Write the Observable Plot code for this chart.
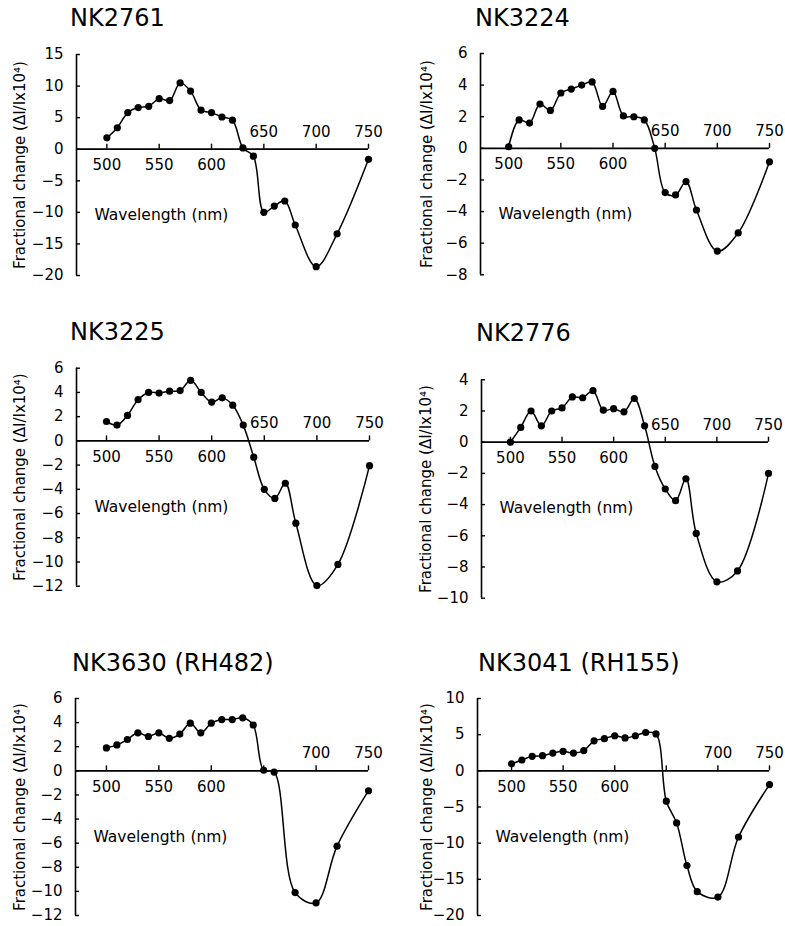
<!DOCTYPE html>
<html>
<head>
<meta charset="utf-8">
<script src="https://cdn.jsdelivr.net/npm/d3@7"></script>
<script src="https://cdn.jsdelivr.net/npm/@observablehq/plot@0.6"></script>
<style>
  body { margin: 0; background: #fff; }
  #page { position: relative; width: 785px; height: 926px; overflow: hidden; font-family: "DejaVu Sans", sans-serif; color: #000; background: #fff; }
  .title { position: absolute; font-size: 24px; line-height: 24px; white-space: nowrap; }
  .panel { position: absolute; }
</style>
</head>
<body>
<div id="page"></div>
<script>
// ---------- data ----------
const wavelengths = [500, 510, 520, 530, 540, 550, 560, 570, 580, 590, 600, 610, 620, 630, 640, 650, 660, 670, 680, 700, 720, 750];
const wavelengthsRH482 = [500, 510, 520, 530, 540, 550, 560, 570, 580, 590, 600, 610, 620, 630, 640, 650, 660, 680, 700, 720, 750];

const nk2761 = [1.8, 3.4, 5.8, 6.6, 6.8, 8.0, 7.7, 10.5, 9.2, 6.2, 5.8, 5.1, 4.6, 0.2, -1.1, -10.0, -9.0, -8.2, -12.0, -18.6, -13.4, -1.6];
const nk3224 = [0.1, 1.8, 1.6, 2.8, 2.4, 3.5, 3.75, 4.0, 4.2, 2.65, 3.6, 2.05, 2.0, 1.8, 0.0, -2.8, -2.95, -2.1, -3.9, -6.5, -5.35, -0.85];
const nk3225 = [1.6, 1.3, 2.1, 3.4, 4.0, 3.95, 4.1, 4.15, 5.0, 4.0, 3.2, 3.55, 2.95, 1.3, -1.35, -4.0, -4.75, -3.5, -6.8, -11.95, -10.2, -2.05];
const nk2776 = [0.0, 0.95, 2.0, 1.05, 2.0, 2.2, 2.9, 2.85, 3.3, 2.05, 2.15, 1.95, 2.8, 1.05, -1.55, -3.0, -3.75, -2.35, -5.85, -8.95, -8.25, -2.0];
const nk3630 = [1.9, 2.15, 2.6, 3.15, 2.85, 3.15, 2.7, 3.05, 3.95, 3.15, 3.95, 4.25, 4.25, 4.4, 3.8, 0.05, -0.1, -10.1, -10.95, -6.25, -1.65];
const nk3041 = [0.97, 1.5, 2.0, 2.1, 2.45, 2.7, 2.45, 2.8, 4.15, 4.45, 4.85, 4.55, 4.85, 5.3, 5.1, -4.2, -7.2, -13.1, -16.7, -17.45, -9.15, -1.9];

const panelTitles = ["NK2761", "NK3224", "NK3225", "NK2776", "NK3630 (RH482)", "NK3041 (RH155)"];

const yTicks2761 = [15, 10, 5, 0, -5, -10, -15, -20];
const yTicks3224 = [6, 4, 2, 0, -2, -4, -6, -8];
const yTicks3225 = [6, 4, 2, 0, -2, -4, -6, -8, -10, -12];
const yTicks2776 = [4, 2, 0, -2, -4, -6, -8, -10];
const yTicks3630 = [6, 4, 2, 0, -2, -4, -6, -8, -10, -12];
const yTicks3041 = [10, 5, 0, -5, -10, -15, -20];

const xTickValues = [500, 550, 600, 650, 700, 750];
const xLabelsBelow = [500, 550, 600];
const xLabelsAbove = [650, 700, 750];
const xLabelsAboveRH = [700, 750];

const yLabel = "Fractional change (\u0394I/Ix10\u2074)";
const xLabel = "Wavelength (nm)";

// ---------- layout ----------
const panels = [
  {title: panelTitles[0], x: wavelengths, y: nk2761, yTicks: yTicks2761, above: xLabelsAbove,
   left: 0, top: 0, w: 390, h: 300, mL: 76, mR: 22, mT: 54, mB: 25, xStart: 471, labelDx: -56, tLeft: 70, tTop: 6},
  {title: panelTitles[1], x: wavelengths, y: nk3224, yTicks: yTicks3224, above: xLabelsAbove,
   left: 395, top: 0, w: 390, h: 300, mL: 85, mR: 16, mT: 53, mB: 25.7, xStart: 473, labelDx: -53, tLeft: 475, tTop: 6},
  {title: panelTitles[2], x: wavelengths, y: nk3225, yTicks: yTicks3225, above: xLabelsAbove,
   left: 0, top: 300, w: 390, h: 310, mL: 76, mR: 21, mT: 67.7, mB: 24.3, xStart: 471.5, labelDx: -56, tLeft: 70, tTop: 320},
  {title: panelTitles[3], x: wavelengths, y: nk2776, yTicks: yTicks2776, above: xLabelsAbove,
   left: 395, top: 300, w: 390, h: 310, mL: 86, mR: 17, mT: 79.3, mB: 12.3, xStart: 472, labelDx: -55, tLeft: 476, tTop: 321},
  {title: panelTitles[4], x: wavelengthsRH482, y: nk3630, yTicks: yTicks3630, above: xLabelsAboveRH,
   left: 0, top: 620, w: 390, h: 306, mL: 75, mR: 22, mT: 78, mB: 11, xStart: 470.5, labelDx: -55, tLeft: 72, tTop: 651},
  {title: panelTitles[5], x: wavelengths, y: nk3041, yTicks: yTicks3041, above: xLabelsAboveRH,
   left: 395, top: 620, w: 390, h: 306, mL: 82, mR: 16, mT: 78, mB: 11, xStart: 467, labelDx: -50, tLeft: 478, tTop: 651}
];

const page = document.getElementById("page");

for (const p of panels) {
  const data = p.x.map((w, i) => ({w, v: p.y[i]}));
  const yMin = d3.min(p.yTicks), yMax = d3.max(p.yTicks);
  const x0 = p.xStart;

  const chart = Plot.plot({
    width: p.w,
    height: p.h,
    marginLeft: p.mL,
    marginRight: p.mR,
    marginTop: p.mT,
    marginBottom: p.mB,
    x: {domain: [x0, 750], axis: null},
    y: {domain: [yMin, yMax], axis: null},
    style: {background: "transparent", fontFamily: "DejaVu Sans, sans-serif", fontSize: "15px", color: "#000", overflow: "visible"},
    marks: [
      // y axis line and inward ticks
      Plot.ruleX([x0], {stroke: "#000", strokeWidth: 1.6}),
      Plot.ruleY(p.yTicks, {y: d => d, x1: x0, x2: x0, insetRight: -4, stroke: "#000", strokeWidth: 1.4}),
      Plot.axisY({ticks: p.yTicks, tickSize: 0, tickPadding: 13, label: null, fontSize: 15, fill: "#000"}),
      // x axis at zero with upward ticks
      Plot.ruleY([0], {stroke: "#000", strokeWidth: 1.8}),
      Plot.ruleX(xTickValues, {x: d => d, y1: 0, y2: 0, insetBottom: 5, stroke: "#000", strokeWidth: 1.4}),
      Plot.text(xLabelsBelow, {x: d => d, y: 0, dy: 16, text: d => String(d), fontSize: 15, fill: "#000"}),
      Plot.text(p.above, {x: d => d, y: 0, dy: -17.5, text: d => String(d), fontSize: 15, fill: "#000"}),
      Plot.text([xLabel], {x: x0, y: 0, dx: 18, dy: 66, text: d => d, textAnchor: "start", fontSize: 15.5, fill: "#000"}),
      // y label
      Plot.text([yLabel], {frameAnchor: "left", dx: p.labelDx, rotate: -90, text: d => d, textAnchor: "middle", fontSize: 15, fill: "#000"}),
      // data
      Plot.line(data, {x: "w", y: "v", curve: "catmull-rom", stroke: "#000", strokeWidth: 1.5}),
      Plot.dot(data, {x: "w", y: "v", r: 3.6, fill: "#000", stroke: "none"})
    ]
  });
  chart.classList.add("panel");
  chart.style.position = "absolute";
  chart.style.left = p.left + "px";
  chart.style.top = p.top + "px";
  page.appendChild(chart);

  const t = document.createElement("div");
  t.className = "title";
  t.textContent = p.title;
  t.style.left = p.tLeft + "px";
  t.style.top = p.tTop + "px";
  page.appendChild(t);
}
</script>
</body>
</html>
